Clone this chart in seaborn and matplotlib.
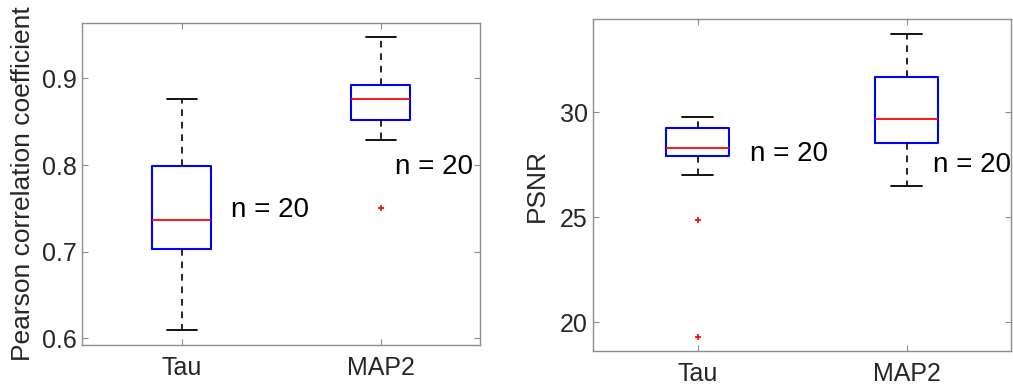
import numpy as np
import pandas as pd
import matplotlib
matplotlib.use("Agg")
import matplotlib.pyplot as plt
import seaborn as sns

# ---- data (20 samples per group) ----
groups = ["Tau", "MAP2"]
pcc_tau = [0.609, 0.640, 0.668, 0.690, 0.703, 0.703, 0.712, 0.720, 0.729, 0.737,
           0.737, 0.748, 0.762, 0.781, 0.799, 0.799, 0.815, 0.832, 0.851, 0.876]
pcc_map2 = [0.750, 0.829, 0.838, 0.845, 0.852, 0.852, 0.860, 0.866, 0.871, 0.876,
            0.876, 0.880, 0.884, 0.888, 0.892, 0.892, 0.905, 0.918, 0.932, 0.948]
psnr_tau = [19.30, 24.87, 27.00, 27.55, 27.92, 27.92, 28.05, 28.14, 28.22, 28.29,
            28.29, 28.45, 28.70, 28.98, 29.25, 29.25, 29.40, 29.52, 29.63, 29.75]
psnr_map2 = [26.48, 27.10, 27.60, 28.10, 28.52, 28.52, 28.85, 29.10, 29.40, 29.68,
             29.68, 30.05, 30.50, 31.10, 31.68, 31.68, 32.20, 32.70, 33.20, 33.70]
n_label = "n = 20"
pcc_ticks = [0.6, 0.7, 0.8, 0.9]
psnr_ticks = [20, 25, 30]

sns.set_style("white")
plt.rcParams["font.family"] = ["Liberation Sans", "DejaVu Sans"]

fig = plt.figure(figsize=(10.13, 3.91), dpi=100)
ax1 = fig.add_axes([0.081, 0.1176, 0.393, 0.8234])
ax2 = fig.add_axes([0.5857, 0.1023, 0.4123, 0.8487])

spine_col = "#8c8c8c"
text_col = "#262626"


def draw(ax, a, b, ylabel, ylim, yticks, texts):
    df = pd.DataFrame({
        "group": [groups[0]] * len(a) + [groups[1]] * len(b),
        "value": list(a) + list(b),
    })
    sns.boxplot(
        data=df, x="group", y="value", order=groups, ax=ax,
        width=0.3, fill=False, color="blue", whis=1.5,
        boxprops=dict(color="blue", linewidth=1.5),
        medianprops=dict(color="red", linewidth=1.3),
        whiskerprops=dict(color="black", linewidth=1.2, linestyle=(0, (4, 3.5))),
        capprops=dict(color="black", linewidth=1.3),
        flierprops=dict(marker="+", markeredgecolor="red", markerfacecolor="red",
                        markersize=5, markeredgewidth=1.2),
    )
    ax.set_xlim(-0.5, 1.5)
    ax.set_ylim(*ylim)
    ax.set_yticks(yticks)
    ax.set_xlabel("")
    ax.set_ylabel(ylabel, fontsize=19, color=text_col)
    for (tx, ty) in texts:
        ax.text(tx, ty, n_label, fontsize=20, color="black", ha="left", va="center")
    for s in ax.spines.values():
        s.set_visible(True)
        s.set_color(spine_col)
        s.set_linewidth(1.0)
    ax.tick_params(axis="both", direction="in", length=4, width=0.8,
                   color=spine_col, labelcolor=text_col, labelsize=18,
                   top=True, right=True, bottom=True, left=True)
    ax.tick_params(axis="x", pad=8)
    ax.tick_params(axis="y", pad=4)


draw(ax1, pcc_tau, pcc_map2, "Pearson correlation coefficient", (0.592, 0.964),
     pcc_ticks, [(0.25, 0.748), (1.07, 0.798)])
ax1.set_yticklabels([f"{t:.1f}" for t in pcc_ticks])
ax1.yaxis.set_label_coords(-0.118, 0.5)

draw(ax2, psnr_tau, psnr_map2, "PSNR", (18.62, 34.43), psnr_ticks,
     [(0.25, 28.0), (1.128, 27.48)])
ax2.yaxis.set_label_coords(-0.106, 0.5)

fig.savefig("out.png", dpi=100)
